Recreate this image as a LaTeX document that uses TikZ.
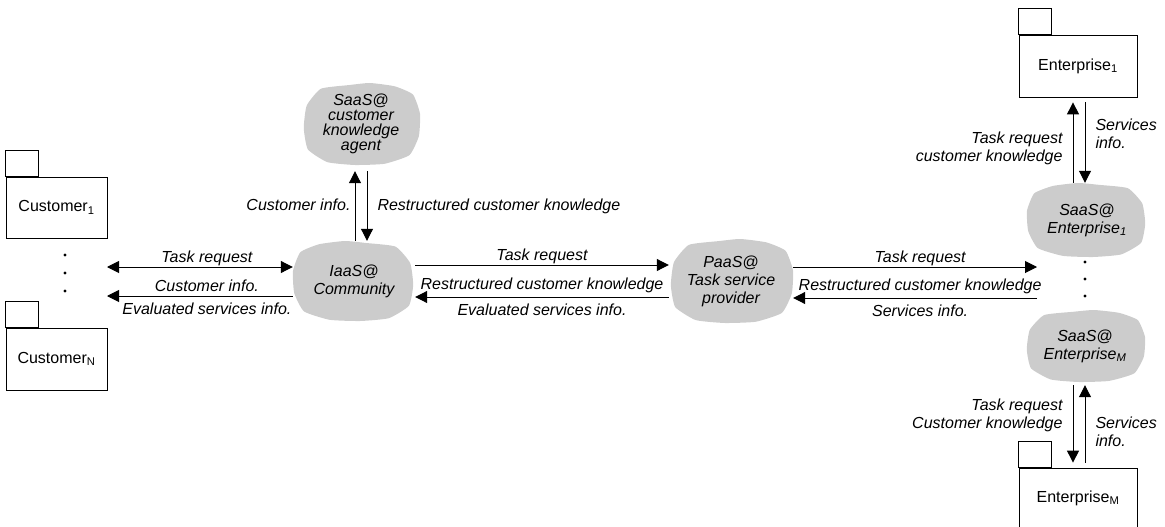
\documentclass[tikz,border=0pt]{standalone}
\usepackage{fontspec}
\setmainfont{Liberation Sans}
\usetikzlibrary{arrows.meta,backgrounds}

\newcommand{\figfont}{\fontsize{16}{18}\selectfont}
\newcommand{\blob}[3]{% node, x radius, y radius
  \fill[cloudgray, shift={(#1.center)}, xscale=#2, yscale=#3]
    plot[smooth cycle, tension=.3] coordinates {(-0.97,0.1) (-0.92,-0.45) (-0.68,-0.86) (-0.2,-0.95)
      (0.15,-1) (0.57,-0.92) (0.88,-0.72) (1,-0.25) (0.98,0.3) (0.82,0.76) (0.4,0.97) (-0.1,1)
      (-0.57,0.93) (-0.9,0.62)};}

\colorlet{cloudgray}{gray!40}
\tikzset{
  lbl/.style={font=\figfont\itshape, inner sep=2pt, text depth=.25em},
  pkg/.style={draw, line width=.8pt, font=\figfont, minimum width=101pt, minimum height=61pt},
  cloudnode/.style={font=\figfont\itshape, align=center, inner sep=0pt},
  oneway/.style={line width=1pt, -{Triangle[length=12pt,width=12pt]}},
  twoway/.style={line width=1pt, {Triangle[length=12pt,width=12pt]}-{Triangle[length=12pt,width=12pt]}},
}

\begin{document}
\begin{tikzpicture}[x=1pt, y=-1pt]
  \useasboundingbox (0,0) rectangle (1165,527);
  % packages
  \node[pkg] (cust1) at (56.5,207.5) {Customer\textsubscript{1}};
  \node[pkg, minimum height=62pt] (custN) at (56.5,359) {Customer\textsubscript{N}};
  \node[pkg, minimum width=118pt, minimum height=62pt] (ent1) at (1078,66) {Enterprise\textsubscript{1}};
  \node[pkg, minimum width=118pt, minimum height=60pt] (entM) at (1078,498) {Enterprise\textsubscript{M}};
  \foreach \p in {cust1,custN,ent1,entM}
    \draw[line width=.8pt] (\p.north west) rectangle ++(33,-26);

  % clouds
  \node[cloudnode, minimum width=118pt, minimum height=82pt] (agent) at (361,124)
    {SaaS@\\[-3pt]customer\\[-3pt]knowledge\\[-3pt]agent};
  \node[cloudnode, minimum width=122pt, minimum height=80pt] (iaas) at (354,281) {IaaS@\\Community};
  \node[cloudnode, minimum width=124pt, minimum height=85pt] (paas) at (731,281) {PaaS@\\Task service\\provider};
  \node[cloudnode, minimum width=120pt, minimum height=74pt] (sent1) at (1087,220) {SaaS@\\Enterprise\textsubscript{1}};
  \node[cloudnode, minimum width=120pt, minimum height=72pt] (sentM) at (1085,346) {SaaS@\\Enterprise\textsubscript{M}};
  \begin{scope}[on background layer]
    \blob{agent}{59}{41}
    \blob{iaas}{-61}{40}
    \blob{paas}{62}{42}
    \blob{sent1}{-60}{37}
    \blob{sentM}{60}{36}
  \end{scope}

  \foreach \y in {255,273,291} \fill (65,\y) circle (1.6pt);
  \foreach \y in {262,279,296} \fill (1085,\y) circle (1.6pt);
  \coordinate (custcol) at (107,281);
  \coordinate (entcol) at (1037,281);

  % horizontal flows
  \draw[twoway] ([yshift=14pt]custcol) -- node[lbl, above, xshift=7pt] {Task request} ([yshift=14pt]custcol -| iaas.west);
  \draw[oneway] ([yshift=-15pt]custcol -| iaas.west) -- node[lbl, above, xshift=7pt] {Customer info.}
    node[lbl, below=4pt, xshift=7pt] {Evaluated services info.} ([yshift=-15pt]custcol);
  \draw[oneway] ([yshift=16pt]iaas.east) -- node[lbl, above] {Task request} ([yshift=16pt]paas.west);
  \draw[oneway] ([yshift=-16pt]paas.west) -- node[lbl, above=3pt] {Restructured customer knowledge}
    node[lbl, below=4pt] {Evaluated services info.} ([yshift=-16pt]iaas.east);
  \draw[oneway] ([yshift=14pt]paas.east) -- node[lbl, above, xshift=5pt] {Task request} ([yshift=14pt]entcol);
  \draw[oneway] ([yshift=-17pt]entcol) -- node[lbl, above=3pt, xshift=5pt] {Restructured customer knowledge}
    node[lbl, below=4pt, xshift=5pt] {Services info.} ([yshift=-17pt]paas.east);

  % vertical flows
  \draw[oneway] ([xshift=-6pt]agent.south |- iaas.north) -- node[lbl, left=2pt] {Customer info.} ([xshift=-6pt,yshift=-6pt]agent.south);
  \draw[oneway] ([xshift=6pt,yshift=-6pt]agent.south) -- node[lbl, right=8pt] {Restructured customer knowledge} ([xshift=6pt]agent.south |- iaas.north);
  \draw[oneway] ([xshift=-5pt]ent1.south |- sent1.north) -- node[lbl, left=8pt, align=right, pos=.43] {Task request\\customer knowledge} ([xshift=-5pt,yshift=-5pt]ent1.south);
  \draw[oneway] ([xshift=7pt,yshift=-5pt]ent1.south) -- node[lbl, right=8pt, align=left, pos=.4] {Services\\info.} ([xshift=7pt]ent1.south |- sent1.north);
  \draw[oneway] ([xshift=-5pt,yshift=-3pt]entM.north |- sentM.south) -- node[lbl, left=8pt, align=right, pos=.385] {Task request\\Customer knowledge} ([xshift=-5pt,yshift=5pt]entM.north);
  \draw[oneway] ([xshift=7pt,yshift=5pt]entM.north) -- node[lbl, right=8pt, align=left, pos=.38] {Services\\info.} ([xshift=7pt,yshift=-3pt]entM.north |- sentM.south);
\end{tikzpicture}
\end{document}
